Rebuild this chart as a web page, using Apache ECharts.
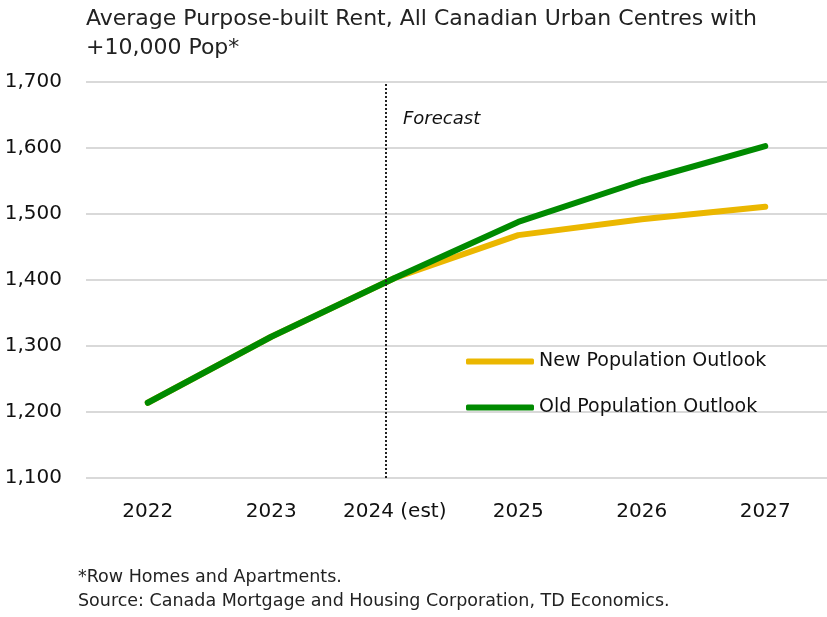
<!DOCTYPE html>
<html>
<head>
<meta charset="utf-8">
<script src="https://cdn.jsdelivr.net/npm/echarts@6/dist/echarts.min.js"></script>
<style>
html,body{margin:0;padding:0;background:#fff;}
#chart{width:827px;height:617px;}
</style>
</head>
<body>
<div id="chart"></div>
<script>
const categories = ['2022', '2023', '2024 (est)', '2025', '2026', '2027'];
const newOutlook = [1214, 1314, 1403, 1468, 1492, 1511];
const oldOutlook = [1214, 1314, 1403, 1488, 1550, 1603];
const yTicks = { min: 1100, max: 1700, interval: 100 };
const forecastAt = 1.93;

const FONT = 'DejaVu Sans';
const chart = echarts.init(document.getElementById('chart'));
chart.setOption({
  animation: false,
  backgroundColor: '#fff',
  title: {
    text: 'Average Purpose-built Rent, All Canadian Urban Centres with\n+10,000 Pop*',
    left: 86, top: 5, padding: 0,
    textStyle: { fontFamily: FONT, fontSize: 22, fontWeight: 'normal', color: '#222', lineHeight: 29 }
  },
  legend: {
    orient: 'vertical', left: 466, top: 352, itemGap: 27, padding: 0,
    itemWidth: 68, itemHeight: 6,
    icon: 'roundRect',
    textStyle: { fontFamily: FONT, fontSize: 19, color: '#111' },
    data: ['New Population Outlook', 'Old Population Outlook']
  },
  grid: { left: 86, right: 0, top: 82, bottom: 139, containLabel: false },
  xAxis: [{
    type: 'category', data: categories, boundaryGap: true,
    axisLine: { show: false }, axisTick: { show: false },
    axisLabel: { fontFamily: FONT, fontSize: 20, color: '#111', margin: 24, interval: 0 }
  }, {
    type: 'value', min: -0.5, max: 5.5, show: false
  }],
  yAxis: {
    type: 'value', min: yTicks.min, max: yTicks.max, interval: yTicks.interval,
    axisLine: { show: false }, axisTick: { show: false },
    axisLabel: { fontFamily: FONT, fontSize: 20, color: '#111', margin: 24,
      formatter: v => v.toLocaleString('en-US') },
    splitLine: { lineStyle: { color: '#d9d9d9', width: 2 } }
  },
  series: [
    {
      name: 'New Population Outlook', type: 'line', data: newOutlook,
      symbol: 'none', color: '#EBB700',
      lineStyle: { width: 6, cap: 'round', color: '#EBB700' }
    },
    {
      name: 'Old Population Outlook', type: 'line', data: oldOutlook,
      symbol: 'none', color: '#008A00',
      lineStyle: { width: 6, cap: 'round', color: '#008A00' }
    },
    {
      type: 'line', xAxisIndex: 1, data: [], silent: true,
      markLine: {
        symbol: 'none', silent: true,
        lineStyle: { type: [2, 2], color: '#222', width: 2 },
        label: { show: false },
        data: [{ xAxis: forecastAt }]
      }
    }
  ],
  graphic: [
    { type: 'text', left: 403, top: 110,
      style: { text: 'Forecast', fontFamily: FONT, fontSize: 18, fontStyle: 'italic', fill: '#111' } },
    { type: 'text', left: 78, top: 565,
      style: { text: '*Row Homes and Apartments.\nSource: Canada Mortgage and Housing Corporation, TD Economics.',
        fontFamily: FONT, fontSize: 17.5, lineHeight: 24, fill: '#222' } }
  ]
});
</script>
</body>
</html>
